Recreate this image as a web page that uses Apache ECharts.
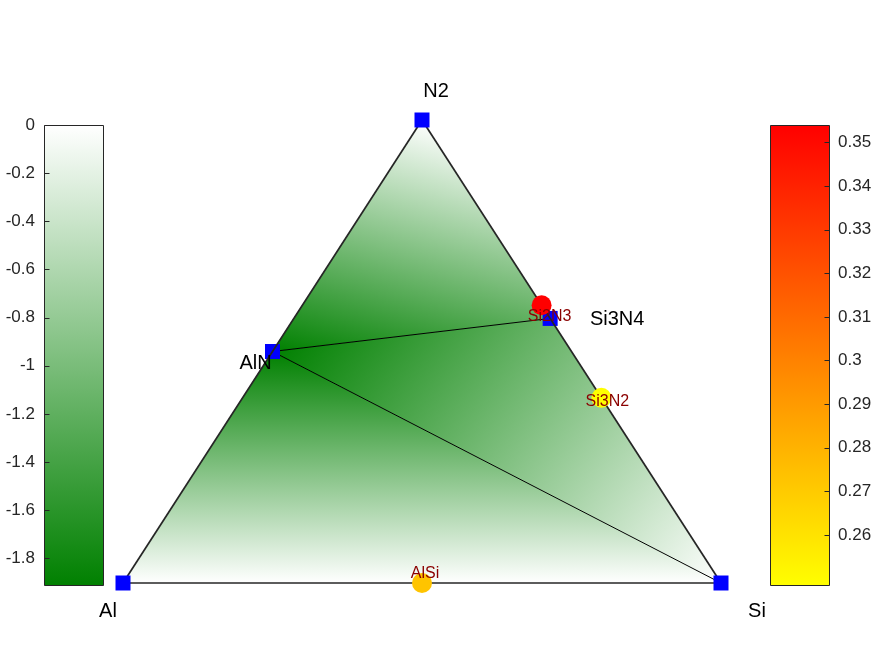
<!DOCTYPE html>
<html><head><meta charset="utf-8">
<script src="https://cdn.jsdelivr.net/npm/echarts@6/dist/echarts.min.js"></script>
<style>html,body{margin:0;padding:0;background:#fff}#c{width:875px;height:656px}</style>
</head><body><div id="c"></div>
<script>
// ---- data ----
const stableNames  = ['Al', 'Si', 'N2', 'AlN', 'Si3N4'];
const stableAl     = [1, 0, 0, 0.5, 0];
const stableSi     = [0, 1, 0, 0, 3/7];
const stableN      = [0, 0, 1, 0.5, 4/7];
const stableEnergy = [0, 0, 0, -1.911, -1.15];
const elementIdx   = [0, 1, 2];
const compoundIdx  = [3, 4];
const facets   = [[2, 3, 4], [3, 4, 1], [0, 3, 1]];
const outerEdges = [[0, 2], [2, 1], [0, 1]];
const tieLines   = [[3, 4], [3, 1]];
const unstableNames = ['Si2N3', 'Si3N2', 'AlSi'];
const unstableAl    = [0, 0, 0.5];
const unstableSi    = [0.4, 0.6, 0.5];
const unstableN     = [0.6, 0.4, 0];
const unstableEhull = [0.354, 0.2485, 0.273];
const energyRange = [-1.911, 0];
const ehullRange  = [0.2485, 0.354];
const energyTicks      = [0, -0.2, -0.4, -0.6, -0.8, -1, -1.2, -1.4, -1.6, -1.8];
const energyTickLabels = ['0', '-0.2', '-0.4', '-0.6', '-0.8', '-1', '-1.2', '-1.4', '-1.6', '-1.8'];
const ehullTicks      = [0.26, 0.27, 0.28, 0.29, 0.3, 0.31, 0.32, 0.33, 0.34, 0.35];
const ehullTickLabels = ['0.26', '0.27', '0.28', '0.29', '0.3', '0.31', '0.32', '0.33', '0.34', '0.35'];

// ---- styles ----
const labelOffsets = {
  'N2': [14, -29], 'Al': [-15, 28], 'Si': [36, 28], 'Si3N4': [67, 1], 'AlN': [-17, 12],
  'Si2N3': [8, 11], 'Si3N2': [6, 4], 'AlSi': [3, -9]
};
const FONT = '"Liberation Sans", Arial, Helvetica, sans-serif';
const GREEN = [0, 128, 0];

// ternary -> cartesian
function tern(al, si, n) { return [si + n / 2, n]; }
const stablePts = stableNames.map((_, i) => tern(stableAl[i], stableSi[i], stableN[i]));
const unstablePts = unstableNames.map((_, i) => tern(unstableAl[i], unstableSi[i], unstableN[i]));

function ehullColor(v) {
  let t = (v - ehullRange[0]) / (ehullRange[1] - ehullRange[0]);
  t = Math.max(0, Math.min(1, t));
  return 'rgb(255,' + Math.round(255 * (1 - t)) + ',0)';
}
function nearestLabel(val, ticks, labels) {
  let best = 0;
  ticks.forEach((t, i) => { if (Math.abs(t - val) < Math.abs(ticks[best] - val)) best = i; });
  return labels[best];
}

const facetData = facets.map(f => {
  const row = [];
  f.forEach(i => row.push(stablePts[i][0], stablePts[i][1]));
  f.forEach(i => row.push(stableEnergy[i]));
  return row;
});
const segData = (list) => list.map(e => [stablePts[e[0]][0], stablePts[e[0]][1], stablePts[e[1]][0], stablePts[e[1]][1]]);

const chart = echarts.init(document.getElementById('c'), null, { renderer: 'canvas' });

function facetRender(params, api) {
  const p = [0, 1, 2].map(i => api.coord([api.value(2 * i), api.value(2 * i + 1)]));
  const v = [api.value(6), api.value(7), api.value(8)];
  const x1 = p[1][0] - p[0][0], y1 = p[1][1] - p[0][1];
  const x2 = p[2][0] - p[0][0], y2 = p[2][1] - p[0][1];
  const d1 = v[1] - v[0], d2 = v[2] - v[0];
  const det = x1 * y2 - x2 * y1;
  const a = (d1 * y2 - d2 * y1) / det;
  const b = (x1 * d2 - x2 * d1) / det;
  const g2 = a * a + b * b || 1e-9;
  const lo = energyRange[0], hi = energyRange[1];
  const A = [p[0][0] + (lo - v[0]) * a / g2, p[0][1] + (lo - v[0]) * b / g2];
  const B = [p[0][0] + (hi - v[0]) * a / g2, p[0][1] + (hi - v[0]) * b / g2];
  const grad = {
    type: 'linear', x: A[0], y: A[1], x2: B[0], y2: B[1], global: true,
    colorStops: [{ offset: 0, color: 'rgb(' + GREEN.join(',') + ')' }, { offset: 1, color: '#ffffff' }]
  };
  return { type: 'polygon', shape: { points: p }, style: { fill: grad, stroke: grad, lineWidth: 0.6 } };
}

function segRender(width, color) {
  return function (params, api) {
    const a = api.coord([api.value(0), api.value(1)]);
    const b = api.coord([api.value(2), api.value(3)]);
    return { type: 'line', shape: { x1: a[0], y1: a[1], x2: b[0], y2: b[1] }, style: { stroke: color, lineWidth: width } };
  };
}

function colorbarRender(range, topColor, bottomColor, ticks, tickSide) {
  return function (params, api) {
    const tl = api.coord([0, range[1]]);
    const br = api.coord([1, range[0]]);
    const children = [{
      type: 'rect',
      shape: { x: tl[0] + 0.5, y: tl[1] + 0.5, width: br[0] - tl[0], height: br[1] - tl[1] },
      style: {
        fill: { type: 'linear', x: 0, y: 0, x2: 0, y2: 1, colorStops: [{ offset: 0, color: topColor }, { offset: 1, color: bottomColor }] },
        stroke: '#262626', lineWidth: 1
      }
    }];
    ticks.forEach(t => {
      const y = Math.round(api.coord([0, t])[1]) + 0.5;
      const x0 = tickSide === 'left' ? tl[0] + 0.5 : br[0] + 0.5;
      const x1 = tickSide === 'left' ? x0 + 5 : x0 - 5;
      children.push({ type: 'line', shape: { x1: x0, y1: y, x2: x1, y2: y }, style: { stroke: '#262626', lineWidth: 1 } });
    });
    return { type: 'group', children };
  };
}

function textRender(names, color, size) {
  return function (params, api) {
    const pt = api.coord([api.value(0), api.value(1)]);
    const name = names[params.dataIndex];
    const off = labelOffsets[name] || [0, 0];
    return {
      type: 'text', x: pt[0] + off[0], y: pt[1] + off[1],
      style: { text: name, fill: color, font: size + 'px ' + FONT, align: 'center', verticalAlign: 'middle' }
    };
  };
}

const hiddenAxis = (gi, min, max) => ({ gridIndex: gi, type: 'value', min, max, show: false });

const option = {
  animation: false,
  backgroundColor: '#fff',
  grid: [
    { left: 123, top: 120, width: 598, height: 463 },
    { left: 44, top: 125, width: 59, height: 460 },
    { left: 770, top: 125, width: 59, height: 460 }
  ],
  xAxis: [hiddenAxis(0, 0, 1), hiddenAxis(1, 0, 1), hiddenAxis(2, 0, 1)],
  yAxis: [
    hiddenAxis(0, 0, 1),
    {
      gridIndex: 1, type: 'value', min: energyRange[0], max: energyRange[1], position: 'left',
      axisLine: { show: false }, splitLine: { show: false }, axisTick: { show: false },
      axisLabel: { show: true, margin: 9, color: '#262626', fontSize: 17, fontFamily: FONT, customValues: energyTicks,
        formatter: v => nearestLabel(v, energyTicks, energyTickLabels) }
    },
    {
      gridIndex: 2, type: 'value', min: ehullRange[0], max: ehullRange[1], position: 'right',
      axisLine: { show: false }, splitLine: { show: false }, axisTick: { show: false },
      axisLabel: { show: true, margin: 9, color: '#262626', fontSize: 17, fontFamily: FONT, customValues: ehullTicks,
        formatter: v => nearestLabel(v, ehullTicks, ehullTickLabels) }
    }
  ],
  series: [
    { type: 'custom', name: 'facets', xAxisIndex: 0, yAxisIndex: 0, z: 1, silent: true,
      renderItem: facetRender, data: facetData, clip: false },
    { type: 'custom', name: 'ties', xAxisIndex: 0, yAxisIndex: 0, z: 2, silent: true,
      renderItem: segRender(1, '#000000'), data: segData(tieLines), clip: false },
    { type: 'scatter', name: 'compounds', xAxisIndex: 0, yAxisIndex: 0, z: 3, silent: true,
      symbol: 'rect', symbolSize: 15, itemStyle: { color: '#0000ff', opacity: 1 },
      data: compoundIdx.map(i => stablePts[i]), clip: false },
    { type: 'custom', name: 'edges', xAxisIndex: 0, yAxisIndex: 0, z: 4, silent: true,
      renderItem: segRender(1.7, '#262626'), data: segData(outerEdges), clip: false },
    { type: 'scatter', name: 'elements', xAxisIndex: 0, yAxisIndex: 0, z: 5, silent: true,
      symbol: 'rect', symbolSize: 15, itemStyle: { color: '#0000ff', opacity: 1 },
      data: elementIdx.map(i => stablePts[i]), clip: false },
    { type: 'scatter', name: 'unstable', xAxisIndex: 0, yAxisIndex: 0, z: 6, silent: true,
      symbol: 'circle', symbolSize: 20,
      data: unstablePts.map((p, i) => ({ value: p, itemStyle: { color: ehullColor(unstableEhull[i]), opacity: 1 } })),
      clip: false },
    { type: 'custom', name: 'stableLabels', xAxisIndex: 0, yAxisIndex: 0, z: 7, silent: true,
      renderItem: textRender(stableNames, '#000000', 20), data: stablePts, clip: false },
    { type: 'custom', name: 'unstableLabels', xAxisIndex: 0, yAxisIndex: 0, z: 7, silent: true,
      renderItem: textRender(unstableNames, '#8b0000', 16), data: unstablePts, clip: false },
    { type: 'custom', name: 'energyBar', xAxisIndex: 1, yAxisIndex: 1, z: 1, silent: true,
      renderItem: colorbarRender(energyRange, '#ffffff', 'rgb(0,128,0)', energyTicks, 'left'), data: [[0, 0]], clip: false },
    { type: 'custom', name: 'ehullBar', xAxisIndex: 2, yAxisIndex: 2, z: 1, silent: true,
      renderItem: colorbarRender(ehullRange, '#ff0000', '#ffff00', ehullTicks, 'right'), data: [[0, 0]], clip: false }
  ]
};
chart.setOption(option);
</script>
</body></html>
